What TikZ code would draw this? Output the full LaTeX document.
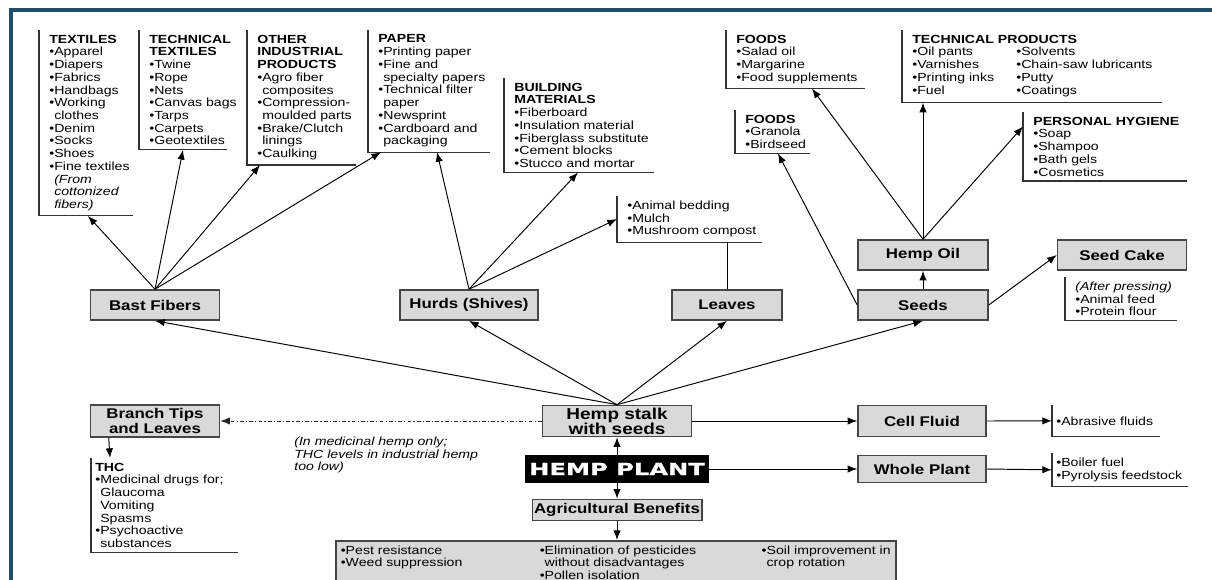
\documentclass[tikz,border=0pt]{standalone}
\usepackage{fontspec}
\usepackage{xcolor}
\usetikzlibrary{arrows.meta,positioning}
\setmainfont{Liberation Sans}[FakeStretch=1.2]
\newfontfamily\plantfont{DejaVu Sans}[FakeStretch=1.45, BoldFeatures={FakeBold=1.2}]
\definecolor{framecolor}{RGB}{31,78,105}
\definecolor{boxcolor}{RGB}{217,217,217}
\definecolor{edgecolor}{RGB}{70,70,70}
\newcommand{\listfont}{\fontsize{6.7}{7.25}\selectfont}
\newcommand{\boxfont}{\fontsize{8}{8}\selectfont\bfseries}
\newcommand{\bulgap}{\hphantom{•}}

\begin{document}
\begin{tikzpicture}[
    x=0.02cm, y=-0.02cm,
    box/.style={rectangle, draw=edgecolor, line width=0.9pt, fill=boxcolor, minimum width=2.6cm, minimum height=0.6cm, inner sep=1pt, align=center, font=\boxfont},
    plantbox/.style={rectangle, draw=black, fill=black, text=white, minimum width=3.66cm, minimum height=0.54cm, inner sep=1pt, font=\plantfont\bfseries\fontsize{9.5}{10}\selectfont},
    listbox/.style={anchor=north west, align=left, inner xsep=0.2cm, inner ysep=0.09cm, font=\listfont},
    benefitbox/.style={listbox, draw=edgecolor, line width=0.9pt, fill=boxcolor, inner xsep=0.1cm},
    bracket/.style={draw=black!80, line width=0.6pt},
    link/.style={line width=0.55pt},
    arrow/.style={link,-{Latex[length=5.5pt,width=4.2pt]}},
    dasharrow/.style={arrow, draw=black!85, dash pattern=on 2.2pt off 1.2pt on 0.7pt off 1.2pt},
    frame/.style={draw=framecolor, line width=0.09cm}
]
\useasboundingbox (0,0) rectangle (1212,580);
\clip (0,0) rectangle (1212,580);
\fill[white] (0,0) rectangle (1212,580);

% Frame
\draw[frame] (1212,10) -- (11,10) -- (11,580);

% Hemp plant and stalk
\node[box, minimum width=2.98cm, minimum height=0.62cm, font=\fontsize{9}{8.5}\selectfont\bfseries] (hempstalk) at (617,421) {Hemp stalk\\with seeds};
\node[plantbox] (hempplant) at (617,469) {HEMP PLANT};
\node[box, minimum width=3.32cm, minimum height=0.42cm] (agri) at (617,510) {Agricultural Benefits};

% Plant parts
\node[box, minimum width=2.58cm] (bast) at (155,305) {Bast Fibers};
\node[box, minimum width=2.76cm] (hurds) at (469,305) {Hurds (Shives)};
\node[box, minimum width=2.2cm] (leaves) at (727,305) {Leaves};
\node[box] (seeds) at (923,305) {Seeds};
\node[box] (hempoil) at (923,255) {Hemp Oil};
\node[box, minimum width=2.58cm] (seedcake) at (1122,255) {Seed Cake};
\node[box, minimum width=2.58cm, minimum height=0.64cm] (branch) at (155,421) {Branch Tips\\and Leaves};
\node[box, minimum width=2.56cm, minimum height=0.62cm] (cellfluid) at (922,421) {Cell Fluid};
\node[box, minimum width=2.56cm, minimum height=0.54cm] (wholeplant) at (922,469) {Whole Plant};

% Fiber products
\node[listbox] (textiles) at (39,30) {\textbf{TEXTILES}\\•Apparel\\•Diapers\\•Fabrics\\•Handbags\\•Working\\\bulgap clothes\\•Denim\\•Socks\\•Shoes\\•Fine textiles\\\bulgap\textit{(From}\\\bulgap\textit{cottonized}\\\bulgap\textit{fibers)}};
\node[listbox] (techtex) at (139,30) {\textbf{TECHNICAL}\\\textbf{TEXTILES}\\•Twine\\•Rope\\•Nets\\•Canvas bags\\•Tarps\\•Carpets\\•Geotextiles};
\node[listbox] (industrial) at (247,30) {\textbf{OTHER}\\\textbf{INDUSTRIAL}\\\textbf{PRODUCTS}\\•Agro fiber\\\bulgap composites\\•Compression-\\\bulgap moulded parts\\•Brake/Clutch\\\bulgap linings\\•Caulking};
\node[listbox] (paper) at (368,30) {\textbf{PAPER}\\•Printing paper\\•Fine and\\\bulgap specialty papers\\•Technical filter\\\bulgap paper\\•Newsprint\\•Cardboard and\\\bulgap packaging};

% Hurd products
\node[listbox] (building) at (504,78) {\textbf{BUILDING}\\\textbf{MATERIALS}\\•Fiberboard\\•Insulation material\\•Fiberglass substitute\\•Cement blocks\\•Stucco and mortar};
\node[listbox] (bedding) at (617,196) {•Animal bedding\\•Mulch\\•Mushroom compost};

% Seed products
\node[listbox] (foodsoil) at (726,30) {\textbf{FOODS}\\•Salad oil\\•Margarine\\•Food supplements};
\node[listbox] (foodsseed) at (735,110) {\textbf{FOODS}\\•Granola\\•Birdseed};
\node[listbox] (techprod) at (902,30) {\textbf{TECHNICAL PRODUCTS}\\
  \begin{tabular}[t]{@{}p{2.08cm}@{}l@{}}
  •Oil pants & •Solvents\\
  •Varnishes & •Chain-saw lubricants\\
  •Printing inks & •Putty\\
  •Fuel & •Coatings
  \end{tabular}};
\node[listbox] (hygiene) at (1023,112) {\textbf{PERSONAL HYGIENE}\\•Soap\\•Shampoo\\•Bath gels\\•Cosmetics};
\node[listbox] (pressing) at (1065,277) {\textit{(After pressing)}\\•Animal feed\\•Protein flour};

% Whole plant and fluid products
\node[listbox, inner xsep=0.08cm, minimum height=0.62cm] (abrasive) at (1052,405) {•Abrasive fluids};
\node[listbox, inner xsep=0.08cm, minimum height=0.66cm] (boiler) at (1052,453) {•Boiler fuel\\•Pyrolysis feedstock};

% Medicinal use
\node[listbox, inner xsep=0.08cm] (thc) at (91,458) {\textbf{THC}\\•Medicinal drugs for;\\\bulgap Glaucoma\\\bulgap Vomiting\\\bulgap Spasms\\•Psychoactive\\\bulgap substances};
\node[listbox, font=\listfont\itshape, inner xsep=0pt] (note) at (294,432) {(In medicinal hemp only;\\THC levels in industrial hemp\\too low)};

% Agricultural benefits
\node[benefitbox] (benefits) at (335,540) {\begin{tabular}[t]{@{}p{3.98cm}@{}p{4.44cm}@{}l@{}}
  •Pest resistance & •Elimination of pesticides & •Soil improvement in\\
  •Weed suppression & \bulgap without disadvantages & \bulgap crop rotation\\
  & •Pollen isolation &
  \end{tabular}};

% Brackets
\draw[bracket] (textiles.north west) -- (textiles.south west) -- ++(94,0);
\draw[bracket] (techtex.north west) -- (techtex.south west) -- ++(88,0);
\draw[bracket] (industrial.north west) -- (industrial.south west) -- ++(109,0);
\draw[bracket] (paper.north west) -- (paper.south west) -- ++(122,0);
\draw[bracket] (building.north west) -- (building.south west) -- ++(150,0);
\draw[bracket] (bedding.north west) -- (bedding.south west) -- ++(145,0);
\draw[bracket] (foodsoil.north west) -- (foodsoil.south west) -- ++(139,0);
\draw[bracket] (foodsseed.north west) -- (foodsseed.south west) -- ++(75,0);
\draw[bracket] (techprod.north west) -- (techprod.south west) -- ++(260,0);
\draw[bracket] (hygiene.north west) -- (hygiene.south west) -- ++(164,0);
\draw[bracket] (pressing.north west) -- (pressing.south west) -- ++(112,0);
\draw[bracket] (abrasive.north west) -- (abrasive.south west) -- ++(108,0);
\draw[bracket] (boiler.north west) -- (boiler.south west) -- ++(136,0);
\draw[bracket] (thc.north west) -- (thc.south west) -- ++(147,0);

% Arrows
\draw[arrow] (hempstalk.north) -- (bast.south);
\draw[arrow] (hempstalk.north) -- (hurds.south);
\draw[arrow] (hempstalk.north) -- (leaves.south);
\draw[arrow] (hempstalk.north) -- (seeds.south);

\draw[arrow] (bast.north) -- ([xshift=0.98cm]textiles.south west);
\draw[arrow] (bast.north) -- ([xshift=0.88cm]techtex.south west);
\draw[arrow] (bast.north) -- ([xshift=0.26cm]industrial.south west);
\draw[arrow] (bast.north) -- ([xshift=0.26cm]paper.south west);

\draw[arrow] (hurds.north) -- ([xshift=1.38cm]paper.south west);
\draw[arrow] (hurds.north) -- ([xshift=1.48cm]building.south west);
\draw[arrow] (hurds.north) -- (bedding.west);
\draw[link] (leaves.north) -- (leaves.north |- bedding.south);

\draw[arrow] (seeds.west) -- ([xshift=0.86cm]foodsseed.south west);
\draw[arrow] (seeds.north) -- (hempoil.south);
\draw[arrow] (seeds.east) -- (seedcake.west);
\draw[arrow] (hempoil.north) -- ([xshift=1.72cm]foodsoil.south west);
\draw[arrow] (hempoil.north) -- (hempoil.north |- techprod.south);
\draw[arrow] (hempoil.north) -- ([yshift=0.4cm]hygiene.west);

\draw[dasharrow] (hempstalk.west) -- (branch.east);
\draw[arrow] ([xshift=0.38cm]branch.south west) -- ([xshift=0.38cm]thc.north west);

\draw[arrow] (hempstalk.east) -- (cellfluid.west);
\draw[arrow] (cellfluid.east) -- (abrasive.west);
\draw[arrow] (hempplant.east) -- (wholeplant.west);
\draw[arrow] (wholeplant.east) -- (boiler.west);

\draw[arrow] (hempplant.north) -- (hempstalk.south);
\draw[arrow] (hempplant.south) -- (agri.north);
\draw[arrow] (agri.south) -- (agri.south |- benefits.north);

\end{tikzpicture}
\end{document}
